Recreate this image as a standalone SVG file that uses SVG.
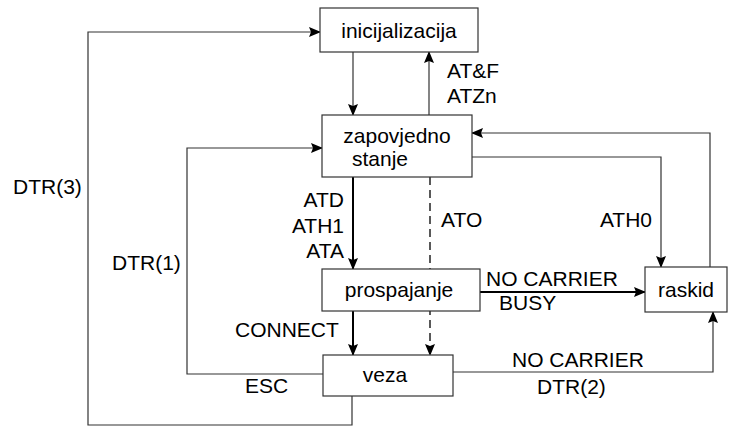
<svg xmlns="http://www.w3.org/2000/svg" width="730" height="427" viewBox="0 0 730 427">
<style>
.box{fill:#fff;stroke:#333;stroke-width:1.2}
.t{font-family:"Liberation Sans",Arial,sans-serif;font-size:21px;fill:#000}
.c{fill:none;stroke:#333;stroke-width:1.2}
.k{fill:none;stroke:#000;stroke-width:2}
.d{fill:none;stroke:#000;stroke-width:1.3;stroke-dasharray:8,5}
</style>
<defs>
<marker id="a" markerWidth="12" markerHeight="10" refX="11" refY="5" orient="auto" markerUnits="userSpaceOnUse">
<path d="M0,0 L12,5 L0,10 L2,5 Z" fill="#000"/>
</marker>
</defs>
<rect width="730" height="427" fill="#fff"/>
<g id="connectors">
<path class="c" d="M353,52 V115" marker-end="url(#a)"/>
<path class="c" d="M429,115 V52" marker-end="url(#a)"/>
<path class="k" d="M353,177 V269" marker-end="url(#a)"/>
<path class="k" d="M353,311 V355" marker-end="url(#a)"/>
<path class="d" d="M430,177 V355" marker-end="url(#a)"/>
<path class="c" d="M472,157 H661 V267" marker-end="url(#a)"/>
<path class="c" d="M710,267 V133 H472" marker-end="url(#a)"/>
<path class="k" d="M480,292 H645" marker-end="url(#a)"/>
<path class="c" d="M453,372 H713 V312" marker-end="url(#a)"/>
<path class="c" d="M323,374 H187 V148 H322" marker-end="url(#a)"/>
<path class="c" d="M352,396 V425 H88 V32 H320" marker-end="url(#a)"/>
</g>
<g id="labels">
<text class="t" x="447" y="78">AT&amp;F</text>
<text class="t" x="447" y="103">ATZn</text>
<text class="t" x="344" y="207" text-anchor="end">ATD</text>
<text class="t" x="344" y="233" text-anchor="end">ATH1</text>
<text class="t" x="344" y="258" text-anchor="end">ATA</text>
<text class="t" x="441" y="227">ATO</text>
<text class="t" x="652" y="227" text-anchor="end">ATH0</text>
<text class="t" x="486" y="286">NO CARRIER</text>
<text class="t" x="499" y="310">BUSY</text>
<text class="t" x="512" y="367">NO CARRIER</text>
<text class="t" x="537" y="394">DTR(2)</text>
<text class="t" x="13" y="194">DTR(3)</text>
<text class="t" x="112" y="270">DTR(1)</text>
<text class="t" x="235" y="337">CONNECT</text>
<text class="t" x="245" y="393">ESC</text>
</g>
<g id="inicijalizacija">
<rect class="box" x="320" y="8" width="158" height="44"/>
<text class="t" x="399" y="38" text-anchor="middle">inicijalizacija</text>
</g>
<g id="zapovjedno">
<rect class="box" x="322" y="115" width="150" height="62"/>
<text class="t" x="397" y="143" text-anchor="middle">zapovjedno</text>
<text class="t" x="352" y="166">stanje</text>
</g>
<g id="prospajanje">
<rect class="box" x="322" y="269" width="158" height="42"/>
<text class="t" x="399" y="297" text-anchor="middle">prospajanje</text>
</g>
<g id="veza">
<rect class="box" x="323" y="355" width="130" height="41"/>
<text class="t" x="385" y="382" text-anchor="middle">veza</text>
</g>
<g id="raskid">
<rect class="box" x="645" y="267" width="82" height="45"/>
<text class="t" x="686" y="297" text-anchor="middle">raskid</text>
</g>
</svg>
